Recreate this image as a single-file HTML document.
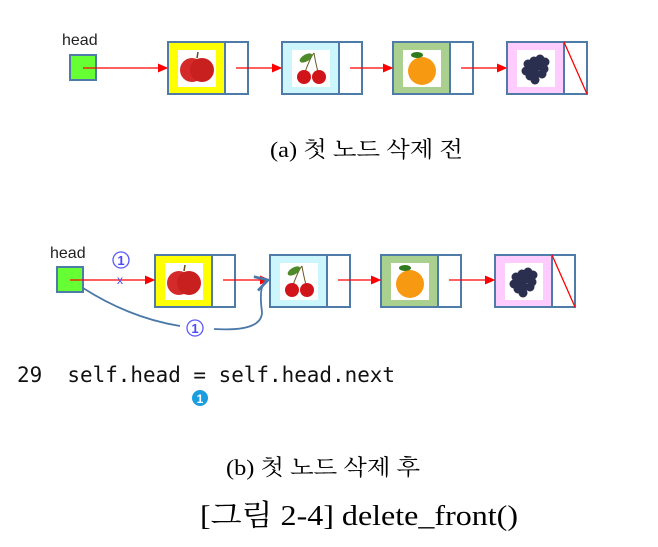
<!DOCTYPE html>
<html><head><meta charset="utf-8"><style>
body{margin:0;background:#fff}
svg{display:block}
.serif{font-family:"Liberation Serif","Noto Serif CJK KR","Noto Serif CJK SC",serif}
.sans{font-family:"Liberation Sans","NanumGothic",sans-serif}
.mono{font-family:"DejaVu Sans Mono","Liberation Mono",monospace}
</style></head><body>
<svg id="s" width="658" height="547" viewBox="0 0 658 547" xmlns="http://www.w3.org/2000/svg">
<defs>
<marker id="ar" markerWidth="8" markerHeight="8" refX="7" refY="4" orient="auto"><path d="M0,0.5 L8,4 L0,7.5Z" fill="#f00"/></marker>
<marker id="ab" markerWidth="10" markerHeight="10" refX="8" refY="5" orient="auto"><path d="M1,1 L8,5 L1,9" fill="none" stroke="#4a78a8" stroke-width="1.5"/></marker>
</defs>
<g id="top"></g>
<g id="bot"></g>
<text class="serif" x="270" y="157" font-size="22" textLength="193" lengthAdjust="spacingAndGlyphs">(a) 첫 노드 삭제 전</text>
<text class="mono" x="17" y="382" font-size="21" fill="#111" textLength="378" lengthAdjust="spacingAndGlyphs" xml:space="preserve">29  self.head = self.head.next</text>
<g><circle cx="200" cy="398" r="8" fill="#1b9ee0"/><text class="sans" x="200" y="403" font-size="12" font-weight="bold" fill="#fff" text-anchor="middle">1</text></g>
<text class="serif" x="226" y="475" font-size="22" textLength="194" lengthAdjust="spacingAndGlyphs">(b) 첫 노드 삭제 후</text>
<text class="serif" x="200" y="525" font-size="29" textLength="318" lengthAdjust="spacingAndGlyphs">[그림 2-4] delete_front()</text>
</svg>
<script>
const NS="http://www.w3.org/2000/svg";
function mk(p,tag,a){const e=document.createElementNS(NS,tag);for(const k in a)e.setAttribute(k,a[k]);p.appendChild(e);return e;}
const fills=["#ffff00","#ccf6fc","#a9d08e","#ffccff"];
const names=["apple","cherry","orange","grape"];
function fruit(g,k,cx,cy){
 if(k===0){mk(g,"circle",{cx:cx-5,cy:cy+2,r:12,fill:"#d42a2a"});mk(g,"circle",{cx:cx+5,cy:cy+2,r:12,fill:"#c81f1f"});mk(g,"line",{x1:cx,y1:cy-10,x2:cx+1,y2:cy-16,stroke:"#6b4a1e","stroke-width":1.5});}
 if(k===1){mk(g,"path",{d:`M${cx-6},${cy+4} Q${cx},${cy-12} ${cx+3},${cy-15} M${cx+7},${cy+4} Q${cx+4},${cy-8} ${cx+3},${cy-15}`,stroke:"#6b5a2a",fill:"none"});mk(g,"ellipse",{cx:cx-5,cy:cy-10,rx:7,ry:3.5,fill:"#4f8a2a",transform:`rotate(-30 ${cx-5} ${cy-10})`});mk(g,"circle",{cx:cx-7,cy:cy+9,r:7,fill:"#d0141a"});mk(g,"circle",{cx:cx+8,cy:cy+9,r:7,fill:"#d0141a"});}
 if(k===2){mk(g,"circle",{cx:cx,cy:cy+3,r:14,fill:"#f79a12"});mk(g,"ellipse",{cx:cx-5,cy:cy-13,rx:6,ry:3,fill:"#2f7a1e"});}
 if(k===3){for(const [dx,dy] of [[-8,-4],[-2,-7],[4,-9],[9,-6],[-10,3],[-4,1],[2,-2],[8,1],[-6,8],[0,6],[6,6],[-1,12]])mk(g,"circle",{cx:cx+dx,cy:cy+dy,r:4.5,fill:"#2b2f4f"});}
}
function node(p,x,y,k){
 const g=mk(p,"g",{});
 
 
 mk(g,"rect",{x:x,y:y,width:57,height:52,fill:fills[k],stroke:"#4f7ba8","stroke-width":2});
 mk(g,"rect",{x:x+10,y:y+8,width:38,height:37,fill:"#fff"});
 fruit(g,k,x+29,y+26);
 mk(g,"rect",{x:x+57,y:y,width:23,height:52,fill:"#fff",stroke:"#4f7ba8","stroke-width":2});
 if(k===3)mk(g,"line",{x1:x+57,y1:y,x2:x+80,y2:y+52,stroke:"#f00","stroke-width":1.3});
}
function arrow(p,x1,y,x2){const l=mk(p,"line",{x1:x1,y1:y,x2:x2,y2:y,stroke:"#f00","stroke-width":1.3,"marker-end":"url(#ar)"});}
function head(p,x,y,lx,ly){
 const t=mk(p,"text",{x:lx,y:ly,"font-size":16,class:"sans",fill:"#222"});t.textContent="head";
 
 const r=mk(p,"rect",{x:x,y:y,width:26,height:25,fill:"#66ff33",stroke:"#4f7ba8","stroke-width":2});
 
}
const T=document.getElementById('top');
head(T,70,55,62,45);
const tx=[168,282,393,507];
tx.forEach((x,i)=>node(T,x,42,i));
arrow(T,83,68,167);
for(let i=0;i<3;i++)arrow(T,tx[i]+68,68,tx[i+1]-1);
const B=document.getElementById('bot');
head(B,57,267,50,258);
const bx=[155,270,381,495];
bx.forEach((x,i)=>node(B,x,255,i));
arrow(B,70,280,154);
for(let i=0;i<3;i++)arrow(B,bx[i]+68,280,bx[i+1]-1);
const cv=mk(B,"path",{d:"M83,288 Q130,318 180,326 M214,329 Q262,332 262,312 Q258,283 268,280",fill:"none",stroke:"#4a78a8","stroke-width":1.8,"marker-end":"url(#ab)"});

function badge(x,y){const g=mk(B,"g",{});
 mk(g,"circle",{cx:x,cy:y,r:8,fill:"#fff",stroke:"#5a5aff","stroke-width":1.3});
 const t=mk(g,"text",{x:x,y:y+5,"font-size":13,"font-weight":"bold",fill:"#4a4aff","text-anchor":"middle",class:"sans"});t.textContent="1";}
badge(121,260);badge(195,328);
const x=mk(B,"text",{x:120,y:284,"font-size":12,fill:"#4a4aff","text-anchor":"middle",class:"sans"});x.textContent="x";

</script>
</body></html>
